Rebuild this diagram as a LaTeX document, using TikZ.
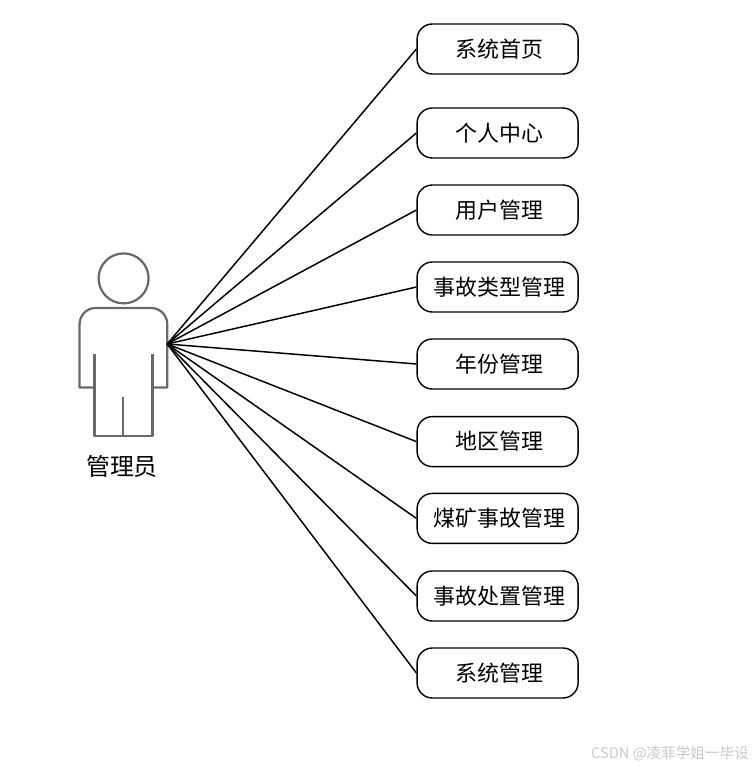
\documentclass[tikz,border=0pt]{standalone}
\usepackage{fontspec}
\usepackage{xcolor}
\usetikzlibrary{positioning}
\setmainfont{Noto Sans CJK SC}
\definecolor{figgray}{RGB}{105,105,105}
\definecolor{markgray}{RGB}{200,200,200}

\begin{document}
\begin{tikzpicture}[
  every node/.style={font=\fontsize{15.6pt}{18pt}\selectfont},
  modbox/.style={draw=black, fill=white, rounded corners=0.38cm, line width=1pt,
                 minimum width=4.025cm, minimum height=1.25cm, align=center, inner sep=0pt,
                 execute at begin node=\hspace*{2.2pt}},
  link/.style={line width=1.05pt, black},
  figline/.style={draw=figgray, line width=1.6pt, line join=round},
]
\useasboundingbox (0,0) rectangle (18.875,-19.175);
\node[modbox] (m_home)  at (12.44,-1.225)  {系统首页};
\node[modbox] (m_self)  at (12.44,-3.325)  {个人中心};
\node[modbox] (m_user)  at (12.44,-5.25)   {用户管理};
\node[modbox] (m_type)  at (12.44,-7.175)  {事故类型管理};
\node[modbox] (m_year)  at (12.44,-9.1)    {年份管理};
\node[modbox] (m_area)  at (12.44,-11.04)  {地区管理};
\node[modbox] (m_mine)  at (12.44,-12.96)  {煤矿事故管理};
\node[modbox] (m_disp)  at (12.44,-14.9)   {事故处置管理};
\node[modbox] (m_sys)   at (12.44,-16.825) {系统管理};
% stick figure
\draw[figline] (3.09,-6.96) circle (0.625);
\draw[figline] (2.36,-9.69) -- (1.99,-9.69) -- (1.99,-8.1) arc (180:90:0.4) -- (3.78,-7.7) arc (90:0:0.4) -- (4.18,-9.69) -- (3.81,-9.69);
\draw[figline] (2.36,-8.86) -- (2.36,-10.9) -- (3.81,-10.9) -- (3.81,-8.86);
\draw[figline] (3.08,-9.93) -- (3.08,-10.9);
\coordinate (hand) at (4.18,-8.6);
\node[font=\fontsize{17pt}{20pt}\selectfont] (actor) at (3.05,-11.65) {管理员};
\draw[link] (hand) -- (m_home.west);
\draw[link] (hand) -- (m_self.west);
\draw[link] (hand) -- (m_user.west);
\draw[link] (hand) -- (m_type.west);
\draw[link] (hand) -- (m_year.west);
\draw[link] (hand) -- (m_area.west);
\draw[link] (hand) -- (m_mine.west);
\draw[link] (hand) -- (m_disp.west);
\draw[link] (hand) -- (m_sys.west);
\node[font=\fontsize{10.4pt}{12pt}\selectfont, text=markgray, anchor=east, inner sep=0pt] (mark) at (18.73,-18.83) {CSDN @凌菲学姐一毕设};
\end{tikzpicture}
\end{document}
